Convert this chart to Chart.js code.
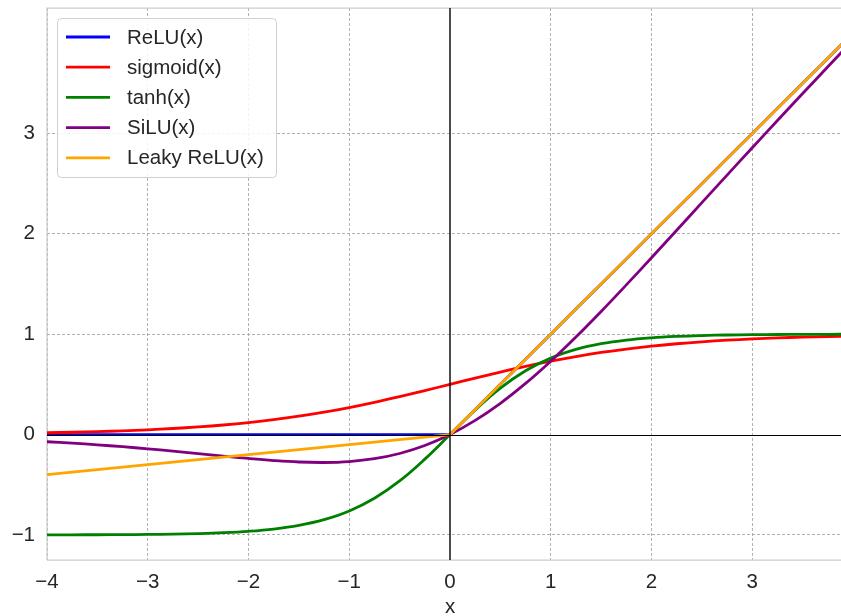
<!DOCTYPE html>
<html>
<head>
<meta charset="utf-8">
<script src="https://cdn.jsdelivr.net/npm/chart.js@4/dist/chart.umd.min.js"></script>
<style>
  html, body { margin: 0; padding: 0; background: #fff; overflow: hidden; }
  #wrap { width: 870px; height: 616px; }
</style>
</head>
<body>
<div id="wrap"><canvas id="c" width="870" height="616"></canvas></div>
<script>
// Sample points on the x axis
const xs = [-4, -3.75, -3.5, -3.25, -3, -2.75, -2.5, -2.25, -2, -1.75, -1.5, -1.25, -1, -0.75, -0.5, -0.25,
            0, 0.25, 0.5, 0.75, 1, 1.25, 1.5, 1.75, 2, 2.25, 2.5, 2.75, 3, 3.25, 3.5, 3.75, 4];

const reluY = [0, 0, 0, 0, 0, 0, 0, 0, 0, 0, 0, 0, 0, 0, 0, 0,
               0, 0.25, 0.5, 0.75, 1, 1.25, 1.5, 1.75, 2, 2.25, 2.5, 2.75, 3, 3.25, 3.5, 3.75, 4];

const sigmoidY = [0.0180, 0.0230, 0.0293, 0.0373, 0.0474, 0.0601, 0.0759, 0.0953, 0.1192, 0.1480, 0.1824, 0.2227,
                  0.2689, 0.3208, 0.3775, 0.4378, 0.5, 0.5622, 0.6225, 0.6792, 0.7311, 0.7773, 0.8176, 0.8520,
                  0.8808, 0.9047, 0.9241, 0.9399, 0.9526, 0.9627, 0.9707, 0.9770, 0.9820];

const tanhY = [-0.9993, -0.9989, -0.9982, -0.9970, -0.9951, -0.9919, -0.9866, -0.9780, -0.9640, -0.9414, -0.9051,
               -0.8483, -0.7616, -0.6351, -0.4621, -0.2449, 0, 0.2449, 0.4621, 0.6351, 0.7616, 0.8483, 0.9051,
               0.9414, 0.9640, 0.9780, 0.9866, 0.9919, 0.9951, 0.9970, 0.9982, 0.9989, 0.9993];

const siluY = [-0.0719, -0.0861, -0.1025, -0.1212, -0.1423, -0.1653, -0.1897, -0.2144, -0.2384, -0.2589, -0.2736,
               -0.2784, -0.2689, -0.2406, -0.1888, -0.1094, 0, 0.1406, 0.3112, 0.5094, 0.7311, 0.9716, 1.2264,
               1.4910, 1.7616, 2.0356, 2.3103, 2.5847, 2.8577, 3.1288, 3.3975, 3.6639, 3.9281];

const leakyY = [-0.4, -0.375, -0.35, -0.325, -0.3, -0.275, -0.25, -0.225, -0.2, -0.175, -0.15, -0.125, -0.1,
                -0.075, -0.05, -0.025, 0, 0.25, 0.5, 0.75, 1, 1.25, 1.5, 1.75, 2, 2.25, 2.5, 2.75, 3, 3.25, 3.5, 3.75, 4];

const seriesNames = ['ReLU(x)', 'sigmoid(x)', 'tanh(x)', 'SiLU(x)', 'Leaky ReLU(x)'];
const seriesColors = ['#0000ff', '#ff0000', '#008000', '#800080', '#ffa500'];
const seriesValues = [reluY, sigmoidY, tanhY, siluY, leakyY];
// piecewise-linear series keep their corner at 0
const seriesTension = [0, 0.4, 0.4, 0.4, 0];

const xTicks = [-4, -3, -2, -1, 0, 1, 2, 3];
const yTicks = [-1, 0, 1, 2, 3];

const FONT = '"Liberation Sans", Arial, sans-serif';
const FONT_SIZE = 20.5;
const TEXT = '#262626';

// later series are painted over earlier ones
const datasets = seriesNames.map((name, i) => ({
  label: name,
  data: xs.map((x, j) => ({ x: x, y: seriesValues[i][j] })),
  borderColor: seriesColors[i],
  backgroundColor: seriesColors[i],
  borderWidth: 2.8,
  pointRadius: 0,
  fill: false,
  order: seriesNames.length - i,
  tension: seriesTension[i]
}));

const fmt = v => (v < 0 ? '\u2212' + Math.abs(v) : String(v));

// Frame, zero axes and legend inside the plot
const decor = {
  id: 'decor',
  beforeDatasetsDraw(chart) {
    const { ctx, chartArea: a } = chart;
    ctx.save();
    ctx.strokeStyle = '#cccccc';
    ctx.lineWidth = 1.25;
    ctx.beginPath();
    ctx.moveTo(a.left, a.bottom);
    ctx.lineTo(a.left, a.top);
    ctx.lineTo(a.right, a.top);
    ctx.lineTo(a.right, a.bottom);
    ctx.lineTo(a.left, a.bottom);
    ctx.stroke();
    ctx.restore();
  },
  afterDatasetsDraw(chart) {
    const { ctx, chartArea: a, scales: { x, y } } = chart;
    ctx.save();
    ctx.strokeStyle = '#000000';
    const x0 = x.getPixelForValue(0);
    const y0 = Math.round(y.getPixelForValue(0)) + 0.5;
    ctx.lineWidth = 1.4;
    ctx.beginPath();
    ctx.moveTo(x0, a.top); ctx.lineTo(x0, a.bottom);
    ctx.stroke();
    ctx.lineWidth = 1;
    ctx.beginPath();
    ctx.moveTo(a.left, y0); ctx.lineTo(a.right, y0);
    ctx.stroke();

    const bx = a.left + 10, by = a.top + 10, bw = 219, bh = 159, r = 4;
    ctx.fillStyle = 'rgba(255,255,255,0.85)';
    ctx.strokeStyle = '#d0d0d0';
    ctx.lineWidth = 1;
    ctx.beginPath();
    ctx.roundRect(bx + 0.5, by + 0.5, bw, bh, r);
    ctx.fill();
    ctx.stroke();
    ctx.font = FONT_SIZE + 'px ' + FONT;
    ctx.textBaseline = 'middle';
    ctx.fillStyle = TEXT;
    seriesNames.forEach((name, i) => {
      const cy = by + 19 + i * 30.2;
      ctx.strokeStyle = seriesColors[i];
      ctx.lineWidth = 2.8;
      ctx.beginPath();
      ctx.moveTo(bx + 9, cy); ctx.lineTo(bx + 53, cy);
      ctx.stroke();
      ctx.fillText(name, bx + 70, cy + 1);
    });
    ctx.restore();
  }
};

new Chart(document.getElementById('c'), {
  type: 'line',
  data: { datasets },
  plugins: [decor],
  options: {
    responsive: false,
    animation: false,
    layout: { padding: { top: 8, right: 17, left: 0, bottom: 0 } },
    plugins: { legend: { display: false }, tooltip: { enabled: false } },
    scales: {
      x: {
        type: 'linear',
        min: -4, max: 4,
        afterBuildTicks: s => { s.ticks = xTicks.map(v => ({ value: v })); },
        afterFit: s => { s.height = 56; s.paddingLeft = 0; s.paddingRight = 0; },
        ticks: { callback: v => fmt(v), color: TEXT, font: { family: FONT, size: FONT_SIZE }, padding: 10, maxRotation: 0 },
        grid: {
          color: ctx => (ctx.tick && ctx.tick.value === 0 ? 'rgba(0,0,0,0)' : '#a8a8a8'),
          lineWidth: 0.9, drawTicks: false
        },
        border: { display: false, dash: [3, 2] },
        title: { display: true, text: 'x', color: TEXT, font: { family: FONT, size: FONT_SIZE }, padding: { top: 0, bottom: -4 } }
      },
      y: {
        type: 'linear',
        min: -1.25, max: 4.25,
        afterBuildTicks: s => { s.ticks = yTicks.map(v => ({ value: v })); },
        afterFit: s => { s.width = 47; s.paddingTop = 0; s.paddingBottom = 0; },
        ticks: { callback: v => fmt(v), color: TEXT, font: { family: FONT, size: FONT_SIZE }, padding: 12 },
        grid: {
          color: ctx => (ctx.tick && ctx.tick.value === 0 ? 'rgba(0,0,0,0)' : '#a8a8a8'),
          lineWidth: 0.9, drawTicks: false
        },
        border: { display: false, dash: [3, 2] }
      }
    }
  }
});
</script>
</body>
</html>
